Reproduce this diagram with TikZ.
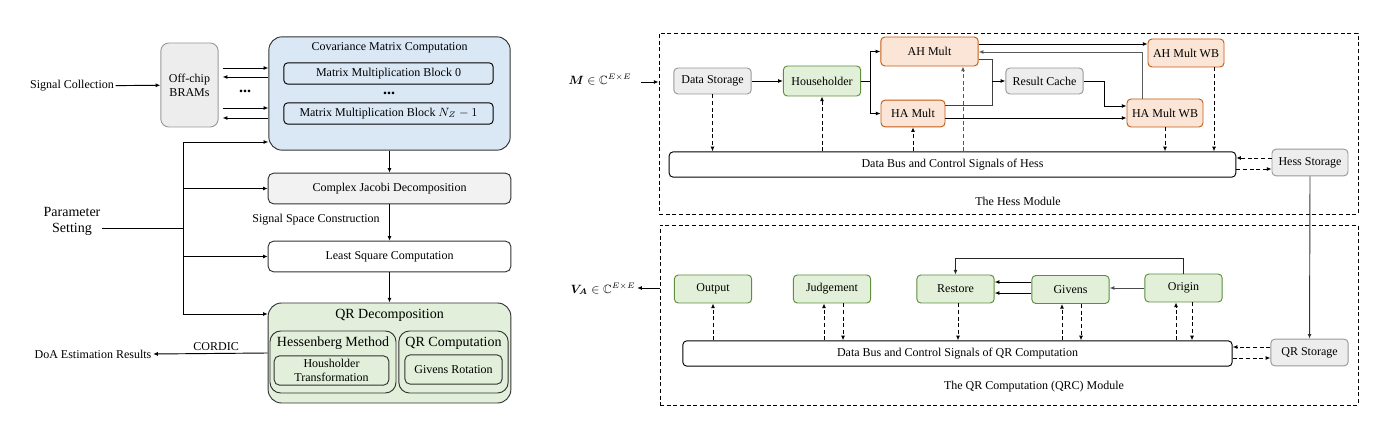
\documentclass[tikz,border=0pt]{standalone}
\usepackage{amsmath}
\usepackage{amssymb}
\usepackage{fontspec}
\setmainfont{Liberation Serif}
\usetikzlibrary{arrows.meta}
\definecolor{covblue}{HTML}{DAE8F5}
\definecolor{qrgreen}{HTML}{E2EFDA}
\definecolor{boxgray}{HTML}{EDEDED}
\definecolor{grayline}{HTML}{999999}
\definecolor{leaf}{HTML}{E2F0D9}
\definecolor{leafline}{HTML}{5E8E3E}
\definecolor{peach}{HTML}{FBE5D6}
\definecolor{rust}{HTML}{C55A11}

\begin{document}
\begin{tikzpicture}[x=0.75pt,y=-0.75pt,line width=0.7pt,
	every node/.style={font=\fontsize{9}{10.5}\selectfont, inner sep=1pt},
	>={Latex[length=3.5pt,width=3pt]},
	bigfont/.style={font=\fontsize{10.5}{12}\selectfont},
	graybox/.style={draw=grayline, fill=boxgray, rounded corners=3pt, minimum width=58pt, minimum height=21pt},
	greenbox/.style={draw=leafline, fill=leaf, rounded corners=3pt, minimum width=58pt, minimum height=21pt},
	orangebox/.style={draw=rust, fill=peach, rounded corners=3pt, minimum width=58pt, minimum height=21pt},
	busbox/.style={draw, rounded corners=3pt, minimum height=19pt},
	leftbox/.style={draw=black!80, rounded corners=4pt, minimum width=182pt, minimum height=23pt},
	modbox/.style={draw, dash pattern=on 3pt off 2pt},
	dasharr/.style={->, dash pattern=on 3pt off 2pt}]
	\useasboundingbox (0,0) rectangle (1376,434);

	% left: covariance part
	\node (sigcol) at (72,86) {Signal Collection};
	\node[graybox, minimum width=43pt, minimum height=63pt, rounded corners=6pt, align=center] (brams) at (189.5,85) {Off-chip\\BRAMs};
	\node[draw=black!80, fill=covblue, rounded corners=10pt, minimum width=181pt, minimum height=85pt] (cov) at (389.5,93.5) {};
	\node (covt) at (389.5,48) {Covariance Matrix Computation};
	\node[draw, rounded corners=3pt, minimum width=157pt, minimum height=16pt] (mm0) at (388.5,73.5) {Matrix Multiplication Block 0};
	\node (mdots) at (389,93) {\fontsize{12}{12}\selectfont\textbf{...}};
	\node[draw, rounded corners=3pt, minimum width=157pt, minimum height=16pt] (mmn) at (388.5,113.5) {Matrix Multiplication Block $N_Z-1$};
	\node (bdots) at (245,91) {\fontsize{12}{12}\selectfont\textbf{...}};
	\draw[->] (sigcol) -- (brams);
	\foreach \ya/\yb in {68/77,108/118} {
		\draw[->, shorten <=3pt] (brams.east |- 0,\ya) -- (cov.west |- 0,\ya);
		\draw[<-, shorten <=3pt] (brams.east |- 0,\yb) -- (cov.west |- 0,\yb);
	}

	% left: decomposition chain
	\node[leftbox, fill=black!5] (jacobi) at (389.5,188.5) {Complex Jacobi Decomposition};
	\node (ssc) at (316,220) {Signal Space Construction};
	\node[leftbox, fill=white] (least) at (389.5,256.5) {Least Square Computation};
	\node[draw=black!80, fill=qrgreen, rounded corners=10pt, minimum width=182pt, minimum height=75pt] (qrd) at (389.5,353) {};
	\node[bigfont] (qrdt) at (389.5,315) {QR Decomposition};
	\node[draw=black!80, rounded corners=8pt, minimum width=94.5pt, minimum height=46.5pt] (hessm) at (333,362) {};
	\node[bigfont] (hessmt) at (333,343) {Hessenberg Method};
	\node[draw=black!80, rounded corners=4pt, minimum width=86pt, minimum height=22pt, align=center] (hht) at (331.5,370.5) {Housholder\\Transformation};
	\node[draw=black!80, rounded corners=8pt, minimum width=82pt, minimum height=46.5pt] (qrc) at (453.5,362) {};
	\node[bigfont] (qrct) at (453.5,343) {QR Computation};
	\node[draw=black!80, rounded corners=4pt, minimum width=73pt, minimum height=22pt] (gvr) at (453.5,369.5) {Givens Rotation};
	\node (doa) at (93,354) {DoA Estimation Results};
	\draw[->] (cov) -- (jacobi);
	\draw[->] (jacobi) -- (least);
	\draw[->] (least) -- (qrd);
	\draw[->] (qrd.west) -- node[above=1pt, pos=0.45] {CORDIC} (doa.east);

	% parameter setting
	\node[bigfont, align=center] (param) at (72,221) {Parameter\\Setting};
	\coordinate (ptop) at (183,142);
	\coordinate (pbot) at (183,314);
	\draw (param.east |- 0,228) -- (ptop |- 0,228);
	\draw (ptop) -- (pbot);
	\draw[->] (ptop) -- (cov.west |- ptop);
	\draw[->] (ptop |- jacobi.west) -- (jacobi.west);
	\draw[->] (ptop |- least.west) -- (least.west);
	\draw[->] (pbot) -- (qrd.west |- pbot);

	% the hess module
	\node[modbox, minimum width=524.25pt, minimum height=135.75pt] (hessmod) at (1008.5,123.5) {};
	\node (hesslab) at (1018,201) {The Hess Module};
	\node (mlab) at (600,80) {$\boldsymbol{M}\in\mathbb{C}^{E\times E}$};
	\node[graybox, minimum height=19.5pt] (datast) at (712.5,81) {Data Storage};
	\node[greenbox, minimum height=22.5pt] (househ) at (822,81) {Householder};
	\node[orangebox, minimum width=73pt, minimum height=21.75pt] (ahm) at (929.5,51.5) {AH Mult};
	\node[orangebox, minimum width=48pt, minimum height=20pt] (ham) at (913,113.5) {HA Mult};
	\node[graybox, minimum height=19.5pt] (rcache) at (1044.5,81) {Result Cache};
	\node[orangebox, minimum width=57pt] (ahmwb) at (1186,53) {AH Mult WB};
	\node[orangebox, minimum width=57pt] (hamwb) at (1165,113) {HA Mult WB};
	\node[busbox, minimum width=425pt] (hbus) at (952.5,164.5) {Data Bus and Control Signals of Hess};
	\node[graybox, minimum width=57pt, minimum height=20pt] (hstore) at (1310,162.5) {Hess Storage};

	\draw[->, shorten <=6pt] (mlab.east |- 0,82) -- (hessmod.west |- 0,82);
	\draw[->] (datast) -- (househ);
	\draw[->] (househ.east) -- ++(9,0) |- (ahm.west);
	\draw[->] (househ.east) -- ++(9,0) |- (ham.west);
	\draw[->] (ahm.east |- 0,44) -- (ahmwb.west |- 0,44);
	\draw[->, black!65] (1142,0 |- hamwb.north) |- (ahm.east |- 0,52);
	\coordinate (rcj) at (992,81);
	\draw[black!75] (ahm.east |- 0,59) -| (rcj);
	\draw[black!75] (ham.east |- 0,105) -| (rcj);
	\draw[->] (rcj) -- (rcache.west);
	\draw[->] (rcache.east) -- ++(21,0) |- (hamwb.west |- 0,106);
	\draw[->] (ham.east |- 0,118) -- (hamwb.west |- 0,118);

	% dashed links to the hess bus
	\draw[dasharr] (datast.south) -- (datast.south |- hbus.north);
	\draw[dasharr] (househ.south |- hbus.north) -- (househ.south);
	\draw[dasharr] (ham.south |- hbus.north) -- (ham.south);
	\draw[dasharr, black!65] (963,0 |- hbus.north) -- (963,0 |- ahm.south);
	\draw[dasharr] (hamwb.south) -- (hamwb.south |- hbus.north);
	\draw[dasharr] (1214,0 |- ahmwb.south) -- (1214,0 |- hbus.north);
	\draw[dasharr] (hstore.west |- 0,158) -- (hbus.east |- 0,158);
	\draw[dasharr] (hbus.east |- 0,169) -- (hstore.west |- 0,169);

	% the qrc module
	\node[modbox, minimum width=523.5pt, minimum height=135pt] (qrcmod) at (1009,315) {};
	\node (qrclab) at (1034,387) {The QR Computation (QRC) Module};
	\node (vlab) at (603,289) {$\boldsymbol{V_A}\in\mathbb{C}^{E\times E}$};
	\node[greenbox] (output) at (713,289) {Output};
	\node[greenbox] (judge) at (832,289) {Judgement};
	\node[greenbox] (restore) at (955.5,289) {Restore};
	\node[greenbox] (givens) at (1070.5,289.5) {Givens};
	\node[greenbox] (origin) at (1183.5,288) {Origin};
	\node[busbox, minimum width=412pt] (qbus) at (957.5,353.5) {Data Bus and Control Signals of QR Computation};
	\node[graybox, minimum width=58pt, minimum height=20pt] (qstore) at (1309.5,352.5) {QR Storage};

	\draw[->, black!80] (hstore.south) -- (qstore.north);
	\draw[->] (qrcmod.west |- 0,288) -- (vlab.east |- 0,288);
	\draw[->] (givens.west |- 0,282) -- (restore.east |- 0,282);
	\draw[->] (givens.west |- 0,293) -- (restore.east |- 0,293);
	\draw[->, black!70] (origin.west |- 0,288) -- (givens.east |- 0,288);
	\draw[->, black!85] (origin.north) -- ++(0,-15) -| (restore.north);

	% dashed links to the qr bus
	\draw[dasharr] (output.south |- qbus.north) -- (output.south);
	\draw[dasharr] (824,0 |- qbus.north) -- (824,0 |- judge.south);
	\draw[dasharr] (843,0 |- judge.south) -- (843,0 |- qbus.north);
	\draw[dasharr] (958,0 |- restore.south) -- (958,0 |- qbus.north);
	\draw[dasharr] (1062,0 |- qbus.north) -- (1062,0 |- givens.south);
	\draw[dasharr] (1081,0 |- givens.south) -- (1081,0 |- qbus.north);
	\draw[dasharr] (1176,0 |- qbus.north) -- (1176,0 |- origin.south);
	\draw[dasharr] (1192,0 |- origin.south) -- (1192,0 |- qbus.north);
	\draw[dasharr] (qstore.west |- 0,347) -- (qbus.east |- 0,347);
	\draw[dasharr] (qbus.east |- 0,358) -- (qstore.west |- 0,358);
\end{tikzpicture}
\end{document}
